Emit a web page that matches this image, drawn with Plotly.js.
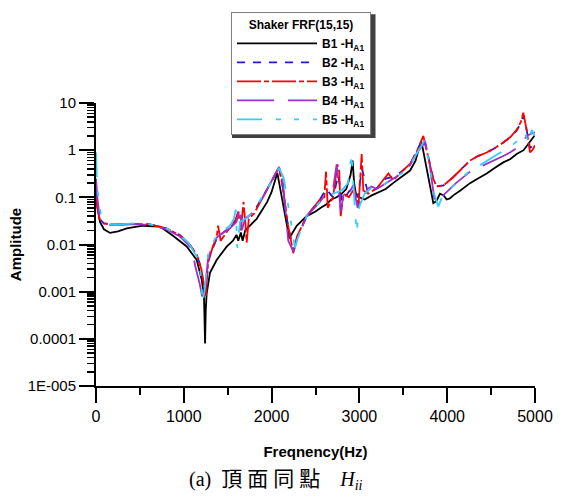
<!DOCTYPE html>
<html>
<head>
<meta charset="utf-8">
<script src="https://cdn.plot.ly/plotly-3.0.1.min.js"></script>
<style>html,body{margin:0;padding:0;background:#fff}#chart{width:567px;height:499px}</style>
</head>
<body>
<div id="chart"></div>
<script>
// ---- data ----
var seriesNames = ["B1 -H<sub>A1</sub>", "B2 -H<sub>A1</sub>", "B3 -H<sub>A1</sub>", "B4 -H<sub>A1</sub>", "B5 -H<sub>A1</sub>"];

var b1Freq = [0, 20, 45, 90, 160, 250, 350, 535, 729, 877, 1033, 1147, 1204, 1230, 1242, 1250, 1260, 1298, 1374, 1488, 1560, 1600, 1620, 1650, 1670, 1700, 1830, 1950, 2000, 2065, 2100, 2150, 2202, 2240, 2286, 2400, 2500, 2560, 2620, 2680, 2740, 2800, 2850, 2900, 2923, 2940, 2960, 3000, 3060, 3140, 3235, 3300, 3383, 3480, 3577, 3640, 3683, 3709, 3750, 3800, 3842, 3880, 3918, 3960, 3994, 4030, 4070, 4150, 4260, 4350, 4450, 4540, 4639, 4720, 4791, 4870, 4943, 5000];
var b1Amp = [0.1, 0.06, 0.03, 0.021, 0.0176, 0.019, 0.022, 0.025, 0.024, 0.0153, 0.0091, 0.0047, 0.0018, 0.0008, 0.00008, 0.0004, 0.0009, 0.0025, 0.0047, 0.009, 0.012, 0.016, 0.012, 0.018, 0.012, 0.02, 0.035, 0.08, 0.13, 0.33, 0.15, 0.045, 0.0135, 0.018, 0.025, 0.04, 0.05, 0.06, 0.07, 0.09, 0.1, 0.12, 0.15, 0.3, 0.6, 0.2, 0.12, 0.1, 0.09, 0.11, 0.13, 0.15, 0.2, 0.27, 0.37, 0.6, 1.2, 1.45, 0.6, 0.2, 0.075, 0.085, 0.12, 0.11, 0.09, 0.095, 0.11, 0.14, 0.2, 0.25, 0.32, 0.42, 0.55, 0.65, 0.83, 1.0, 1.55, 2.1];

var b2Freq = [0, 15, 40, 90, 160, 300, 444, 600, 800, 950, 1050, 1150, 1200, 1235, 1255, 1280, 1374, 1450, 1526, 1600, 1650, 1700, 1800, 1900, 1990, 2085, 2130, 2180, 2250, 2290, 2400, 2551, 2620, 2700, 2760, 2800, 2900, 2980, 3030, 3100, 3197, 3300, 3387, 3480, 3577, 3660, 3730, 3780, 3840, 3880, 3960, 4070, 4160, 4260, 4350, 4450, 4540, 4639, 4720, 4791, 4840, 4867, 4900, 4943, 5000];
var b2Amp = [0.15, 0.07, 0.035, 0.028, 0.027, 0.027, 0.028, 0.027, 0.022, 0.016, 0.011, 0.006, 0.003, 0.001, 0.0012, 0.005, 0.013, 0.018, 0.023, 0.035, 0.04, 0.035, 0.05, 0.1, 0.2, 0.44, 0.15, 0.03, 0.007, 0.014, 0.04, 0.09, 0.15, 0.1, 0.3, 0.08, 0.15, 0.1, 0.4, 0.12, 0.155, 0.25, 0.27, 0.35, 0.5, 1.0, 1.9, 0.8, 0.25, 0.17, 0.18, 0.27, 0.4, 0.6, 0.75, 0.89, 1.1, 1.45, 1.9, 2.6, 3.8, 5.5, 3.0, 1.1, 1.4];

var b3Freq = [0, 15, 40, 90, 160, 300, 444, 600, 800, 950, 1050, 1150, 1200, 1230, 1250, 1276, 1330, 1374, 1390, 1420, 1526, 1580, 1620, 1650, 1680, 1700, 1716, 1740, 1800, 1900, 1990, 2085, 2130, 2180, 2248, 2290, 2400, 2551, 2600, 2620, 2640, 2700, 2750, 2771, 2787, 2820, 2880, 2940, 2990, 3026, 3045, 3100, 3197, 3280, 3330, 3387, 3480, 3577, 3660, 3728, 3780, 3840, 3880, 3960, 4070, 4160, 4260, 4350, 4450, 4540, 4639, 4720, 4791, 4840, 4867, 4900, 4943, 4970, 5000];
var b3Amp = [0.1, 0.06, 0.035, 0.028, 0.027, 0.027, 0.028, 0.027, 0.022, 0.016, 0.011, 0.006, 0.003, 0.0012, 0.0008, 0.004, 0.009, 0.014, 0.025, 0.012, 0.023, 0.03, 0.05, 0.02, 0.08, 0.03, 0.011, 0.035, 0.045, 0.1, 0.2, 0.44, 0.15, 0.03, 0.0065, 0.015, 0.04, 0.09, 0.1, 0.35, 0.06, 0.1, 0.5, 0.35, 0.04, 0.12, 0.1, 0.15, 0.065, 0.83, 0.14, 0.12, 0.155, 0.25, 0.32, 0.23, 0.35, 0.51, 1.0, 2.0, 0.8, 0.25, 0.17, 0.18, 0.27, 0.4, 0.6, 0.75, 0.89, 1.1, 1.45, 1.9, 2.7, 4.0, 6.2, 3.0, 0.9, 1.0, 1.27];

var b4Freq = [0, 15, 40, 90, 160, 300, 444, 600, 800, 950, 1050, 1100, 1130, 1180, 1215, 1240, 1276, 1330, 1374, 1450, 1526, 1600, 1640, 1660, 1700, 1800, 1900, 1990, 2085, 2130, 2190, 2250, 2290, 2400, 2551, 2620, 2700, 2741, 2787, 2830, 2880, 2930, 2980, 3060, 3140, 3197, 3300, 3387, 3480, 3577, 3660, 3750, 3800, 3860, 3930, 4000, 4100, 4260, 4350, 4450, 4540, 4639, 4720, 4791, 4860, 4905, 4950, 5000];
var b4Amp = [0.25, 0.1, 0.04, 0.03, 0.026, 0.026, 0.027, 0.026, 0.021, 0.015, 0.01, 0.007, 0.0035, 0.0015, 0.0007, 0.001, 0.005, 0.01, 0.014, 0.018, 0.022, 0.03, 0.065, 0.02, 0.035, 0.05, 0.1, 0.2, 0.44, 0.2, 0.012, 0.007, 0.013, 0.04, 0.08, 0.12, 0.15, 0.5, 0.05, 0.15, 0.12, 0.18, 0.06, 0.14, 0.17, 0.15, 0.2, 0.25, 0.32, 0.48, 0.9, 1.5, 0.5, 0.075, 0.1, 0.13, 0.2, 0.35, 0.42, 0.5, 0.6, 0.75, 0.9, 1.1, 1.5, 2.0, 2.2, 2.4];

var b5Freq = [0, 10, 30, 60, 100, 160, 300, 444, 600, 800, 950, 1050, 1150, 1190, 1215, 1240, 1276, 1374, 1450, 1526, 1570, 1591, 1610, 1640, 1700, 1800, 1900, 1990, 2085, 2140, 2200, 2266, 2300, 2400, 2551, 2620, 2700, 2800, 2870, 2912, 2940, 2969, 3000, 3060, 3140, 3197, 3300, 3387, 3480, 3577, 3660, 3740, 3790, 3850, 3899, 3940, 3994, 4100, 4260, 4350, 4450, 4540, 4650, 4753, 4820, 4886, 4930, 4962, 5000];
var b5Amp = [0.9, 0.25, 0.08, 0.04, 0.03, 0.027, 0.027, 0.028, 0.027, 0.022, 0.016, 0.011, 0.0055, 0.0025, 0.00058, 0.0012, 0.006, 0.016, 0.02, 0.025, 0.035, 0.055, 0.0085, 0.03, 0.035, 0.05, 0.11, 0.2, 0.42, 0.25, 0.05, 0.0085, 0.014, 0.04, 0.08, 0.1, 0.12, 0.14, 0.2, 0.83, 0.1, 0.018, 0.065, 0.12, 0.16, 0.15, 0.2, 0.25, 0.32, 0.48, 0.9, 1.6, 0.6, 0.12, 0.064, 0.1, 0.13, 0.2, 0.37, 0.45, 0.6, 0.75, 1.0, 1.33, 1.7, 2.3, 1.4, 2.7, 2.0];

var xTickVals = [0, 1000, 2000, 3000, 4000, 5000];
var yTickVals = [1e-5, 1e-4, 1e-3, 1e-2, 1e-1, 1, 10];
var yTickText = ["1E-005", "0.0001", "0.001", "0.01", "0.1", "1", "10"];

// ---- styles ----
var colors = ["#000000", "#1c1cd9", "#ff0000", "#9b30cc", "#33ccff"];
var dashes = ["solid", "8px,8px", "24px,3px,5px,3px", "37px,14px", "25px,14px,5px,13px,5px,14px"];
var xs = [b1Freq, b2Freq, b3Freq, b4Freq, b5Freq];
var ys = [b1Amp, b2Amp, b3Amp, b4Amp, b5Amp];

var traces = xs.map(function (x, i) {
  return {
    x: x, y: ys[i], type: "scatter", mode: "lines", name: seriesNames[i],
    line: {color: colors[i], width: 1.8, dash: dashes[i]}
  };
});

var F = "Liberation Sans, Arial, sans-serif";
var SERIF = "Liberation Serif, DejaVu Serif, serif";
var sp = "&nbsp;";
function cjk(ch) { return "<span style='font-family:Noto Sans CJK TC;font-size:21px'>" + ch + "</span>"; }
function ser(t) { return "<span style='font-family:" + SERIF + "'>" + t + "</span>"; }
var caption =
  ser("(a)" + sp + sp) +
  cjk("頂") + ser(sp) + cjk("面") + ser(sp) + cjk("同") + ser(sp) + cjk("點") +
  ser(sp + sp + sp + sp + "<i>H</i><sub><i>ii</i></sub>");

var layout = {
  width: 567, height: 499,
  margin: {l: 96, r: 32, t: 96, b: 113},
  paper_bgcolor: "#fff", plot_bgcolor: "#fff",
  showlegend: true,
  font: {family: F, color: "#000"},
  xaxis: {
    range: [0, 5000], tickmode: "array", tickvals: xTickVals,
    ticks: "outside", ticklen: 15, tickwidth: 2, tickcolor: "#000",
    minor: {dtick: 500, ticks: "outside", ticklen: 7, tickwidth: 2, tickcolor: "#000", showgrid: false},
    showline: true, linewidth: 2, linecolor: "#000", mirror: false,
    showgrid: false, zeroline: false,
    tickfont: {family: F, size: 16, color: "#000"},
    title: {text: "<b>Freqnency(Hz)</b>", font: {family: F, size: 15, color: "#000"}, standoff: 22}
  },
  yaxis: {
    type: "log", range: [-5, 1], tickmode: "array", tickvals: yTickVals, ticktext: yTickText,
    ticks: "outside", ticklen: 15, tickwidth: 2, tickcolor: "#000",
    minor: {dtick: "D1", ticks: "outside", ticklen: 7, tickwidth: 1.5, tickcolor: "#000", showgrid: false},
    showline: true, linewidth: 2, linecolor: "#000", mirror: false,
    showgrid: false, zeroline: false,
    tickfont: {family: F, size: 15, color: "#000"},
    title: {text: "<b>Amplitude</b>", font: {family: F, size: 15, color: "#000"}, standoff: 2}
  },
  legend: {
    x: 0.3075, y: 1.3207, xanchor: "left", yanchor: "top",
    bgcolor: "#fff", bordercolor: "#808080", borderwidth: 1,
    itemwidth: 80, tracegroupgap: 0,
    font: {family: F, size: 12, color: "#000", weight: "bold"},
    title: {text: "<b>Shaker FRF(15,15)</b>", side: "top center", font: {family: F, size: 12, color: "#000"}}
  },
  shapes: [{
    type: "rect", xref: "paper", yref: "paper", layer: "above",
    x0: 0.3098, x1: 0.6367, y0: 0.8759, y1: 1.3138,
    fillcolor: "#404040", line: {width: 0}
  }],
  annotations: [{
    xref: "paper", yref: "paper", x: 0.2073, y: -0.324, xanchor: "left", yanchor: "middle",
    showarrow: false, text: caption,
    font: {family: SERIF, size: 20, color: "#000"}
  }]
};

Plotly.newPlot("chart", traces, layout, {staticPlot: true, displayModeBar: false});
</script>
</body>
</html>
